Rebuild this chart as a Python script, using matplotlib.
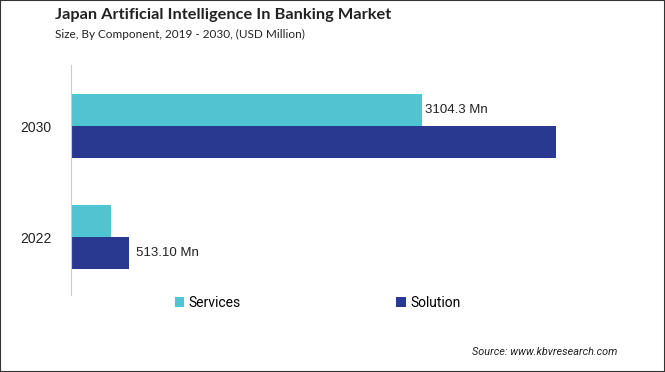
import matplotlib.pyplot as plt
from matplotlib.patches import Rectangle

years = ['2022', '2030']
services = [354, 3104.3]
solution = [513.10, 4289]
labels = {('Services', 1): '3104.3 Mn', ('Solution', 0): '513.10 Mn'}

c_serv = '#50C4D0'
c_sol = '#2A3990'

fig = plt.figure(figsize=(6.65, 3.72), dpi=100)
ax = fig.add_axes([71 / 665, 1 - 295 / 372, 565 / 665, 230 / 372])

h = 0.288
y = [0, 1]
ax.barh([v + h / 2 for v in y], services, height=h, color=c_serv, label='Services')
ax.barh([v - h / 2 for v in y], solution, height=h, color=c_sol, label='Solution')

ax.text(services[1] + 30, 1 + h / 2, labels[('Services', 1)], va='center', ha='left',
        fontsize=9.5, family='Liberation Sans', color='#222222')
ax.text(solution[0] + 60, 0 - h / 2, labels[('Solution', 0)], va='center', ha='left',
        fontsize=9.5, family='Liberation Sans', color='#222222')

ax.set_xlim(0, 5000)
ax.set_ylim(-0.52, 1.55)
ax.set_yticks(y)
ax.set_yticklabels(years, fontsize=10, family='Liberation Sans', color='#222222')
ax.tick_params(axis='y', length=0, pad=14)
ax.set_xticks([])
for s in ['top', 'right', 'bottom']:
    ax.spines[s].set_visible(False)
ax.spines['left'].set_color('#cccccc')

fig.text(55 / 665, 1 - 15 / 372, 'Japan Artificial Intelligence In Banking Market',
         fontsize=11.8, fontweight='bold', family='Lato', va='center', ha='left', color='#222222')
fig.text(55 / 665, 1 - 34 / 372, 'Size, By Component, 2019 - 2030, (USD Million)',
         fontsize=8.5, family='Lato', va='center', ha='left', color='#222222')

leg = fig.legend(loc='center left', bbox_to_anchor=(162 / 665, 1 - 303 / 372), ncol=2,
                 frameon=False, prop={'family': 'Roboto', 'size': 10}, handlelength=0.7,
                 handleheight=0.7, handletextpad=0.3, columnspacing=11.2)

fig.text(617 / 665, 1 - 352 / 372, 'Source: www.kbvresearch.com', fontsize=7.8,
         family='Roboto', style='italic', ha='right', va='center', color='#222222')

fig.patches.append(Rectangle((0, 0), 1, 1, transform=fig.transFigure, fill=False,
                             edgecolor='#333333', linewidth=1.5))

fig.savefig('out.png', dpi=100)
